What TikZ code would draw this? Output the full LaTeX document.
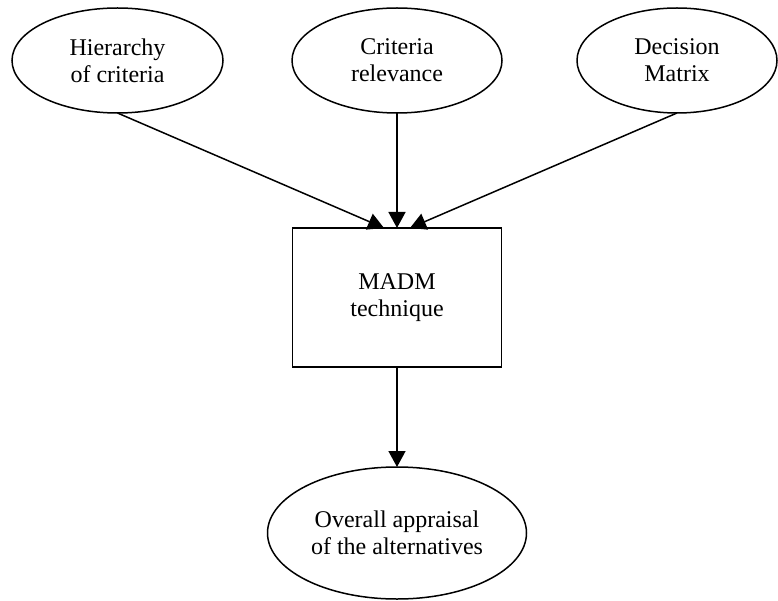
\documentclass[tikz,border=0pt]{standalone}
\usepackage{fontspec}
\setmainfont{Liberation Serif}
\usetikzlibrary{shapes.geometric,arrows.meta,calc}
\begin{document}
\begin{tikzpicture}[x=1pt,y=-1pt,
  every node/.style={inner sep=0pt, outer sep=0pt, align=center,
    font=\fontsize{24}{27}\selectfont},
  oval/.style={ellipse, draw, line width=1.5pt},
  boxnode/.style={rectangle, draw, line width=1.5pt, minimum width=209pt, minimum height=139pt},
  conn/.style={line width=1.5pt, -{Triangle[length=16pt,width=17pt]}}]
\useasboundingbox (0,0) rectangle (778,601);
\node[oval, minimum width=211pt, minimum height=105pt] (h) at (117.5,60.5) {Hierarchy\\of criteria};
\node[oval, minimum width=210pt, minimum height=105pt] (c) at (397,60.5) {Criteria\\relevance};
\node[oval, minimum width=200pt, minimum height=105pt] (d) at (677,60.5) {Decision\\Matrix};
\node[boxnode] (m) at (397,297.5) {MADM\\technique};
\node[oval, minimum width=259pt, minimum height=132pt] (o) at (397,533) {Overall appraisal\\of the alternatives};
\draw[conn] (h.south) -- ($(m.north)+(-13,0)$);
\draw[conn] (c.south) -- (m.north);
\draw[conn] (d.south) -- ($(m.north)+(13,0)$);
\draw[conn] (m.south) -- (o.north);
\end{tikzpicture}
\end{document}
